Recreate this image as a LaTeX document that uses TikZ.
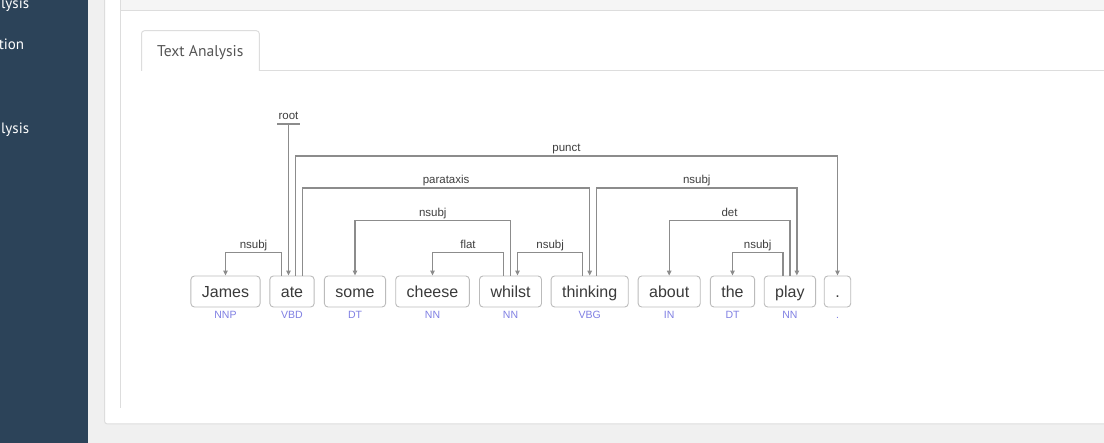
\documentclass[tikz,border=0pt]{standalone}
\usepackage{fontspec}
\setmainfont{Liberation Sans}
\newfontfamily\uifont{PT Sans}
\usetikzlibrary{arrows.meta}
\definecolor{sidebar}{HTML}{2C4359}
\definecolor{pagebg}{HTML}{F0F0F0}
\definecolor{rulec}{HTML}{DDDDDD}
\definecolor{headc}{HTML}{F5F5F5}
\definecolor{tabtext}{HTML}{555555}
\definecolor{boxc}{HTML}{BBBBBB}
\definecolor{wordc}{HTML}{3A3A3A}
\definecolor{arcc}{HTML}{8C8C8C}
\definecolor{lblc}{HTML}{3F3F3F}
\definecolor{tagc}{HTML}{7F7FE3}
\begin{document}
\begin{tikzpicture}[x=1pt,y=-1pt,
 word/.style={draw=boxc, line width=0.9pt, rounded corners=3.5pt, fill=white, text=wordc,
   font=\fontsize{16}{18}\selectfont, inner xsep=11pt, inner ysep=0pt, minimum height=31pt,
   text height=12.5pt, text depth=0.5pt},
 tag/.style={text=tagc, font=\fontsize{10.5}{12}\selectfont, inner sep=0pt, anchor=base},
 dep/.style={draw=arcc, line width=1.2pt, -{Triangle[length=5pt,width=4.5pt]}},
 lbl/.style={text=lblc, font=\fontsize{11.5}{13}\selectfont, inner sep=0pt, anchor=base, yshift=4.5pt},
 sidetext/.style={text=white, font=\uifont\fontsize{15}{18}\selectfont, inner sep=0pt, anchor=base east},
 rulel/.style={draw=rulec, line width=1pt}
]
\useasboundingbox (0,0) rectangle (1104,443);
% page background
\fill[pagebg] (0,0) rectangle (1104,443);
\fill[sidebar] (0,0) rectangle (88,443);
\begin{scope}
  \clip (0,0) rectangle (88,443);
  \node[sidetext] (side1) at (29.3,8.3) {lysis};
  \node[sidetext] (side2) at (24.3,50) {tion};
  \node[sidetext] (side3) at (29.3,133.3) {lysis};
\end{scope}
% white panel
\draw[rulel, fill=white, rounded corners=3pt] (104.5,-10) rectangle (1115,424);
% inner box header and border
\fill[headc] (120.3,-5) rectangle (1110,10.5);
\draw[rulel] (120.3,10.5) -- (1110,10.5);
\draw[rulel] (120.3,-5) -- (120.3,408);
% tab
\draw[rulel, fill=white, rounded corners=3pt] (141.5,71) -- (141.5,30.7) -- (259.3,30.7) -- (259.3,71);
\draw[rulel] (259.3,71) -- (1110,71);
\node[text=tabtext, font=\uifont\fontsize{15.6}{18}\selectfont, inner sep=0pt, anchor=base] (tab) at (200.3,56.5) {Text Analysis};

% words
\node[word] (James) at (225.5,291.5) {James};
\node[word] (ate) at (292,291.5) {ate};
\node[word] (some) at (355,291.5) {some};
\node[word] (cheese) at (432.5,291.5) {cheese};
\node[word] (whilst) at (510.5,291.5) {whilst};
\node[word] (thinking) at (589.7,291.5) {thinking};
\node[word] (about) at (669.2,291.5) {about};
\node[word] (the) at (732.5,291.5) {the};
\node[word] (play) at (789.9,291.5) {play};
\node[word] (dot) at (837.5,291.5) {.};

% tags
\node[tag] (tJames) at ([yshift=-11pt]James.south) {NNP};
\node[tag] (tate) at ([yshift=-11pt]ate.south) {VBD};
\node[tag] (tsome) at ([yshift=-11pt]some.south) {DT};
\node[tag] (tcheese) at ([yshift=-11pt]cheese.south) {NN};
\node[tag] (twhilst) at ([yshift=-11pt]whilst.south) {NN};
\node[tag] (tthinking) at ([yshift=-11pt]thinking.south) {VBG};
\node[tag] (tabout) at ([yshift=-11pt]about.south) {IN};
\node[tag] (tthe) at ([yshift=-11pt]the.south) {DT};
\node[tag] (tplay) at ([yshift=-11pt]play.south) {NN};
\node[tag] (tdot) at ([yshift=-11pt]dot.south) {.};

% level 1
\draw[dep] ([xshift=-10.5pt]ate.north) -- ++(0,23pt) -| (James.north) node[lbl,pos=0.25] {nsubj};
\draw[dep] ([xshift=-7pt]whilst.north) -- ++(0,23pt) -| (cheese.north) node[lbl,pos=0.25] {flat};
\draw[dep] ([xshift=-7pt]thinking.north) -- ++(0,23pt) -| ([xshift=7pt]whilst.north) node[lbl,pos=0.25] {nsubj};
\draw[dep] ([xshift=-7pt]play.north) -- ++(0,23pt) -| (the.north) node[lbl,pos=0.25] {nsubj};
% level 2
\draw[dep] (whilst.north) -- ++(0,55pt) -| (some.north) node[lbl,pos=0.25] {nsubj};
\draw[dep] (play.north) -- ++(0,55pt) -| (about.north) node[lbl,pos=0.25] {det};
% level 3
\draw[dep] ([xshift=10.5pt]ate.north) -- ++(0,87.5pt) -| (thinking.north) node[lbl,pos=0.25] {parataxis};
\draw[dep] ([xshift=7pt]thinking.north) -- ++(0,87.5pt) -| ([xshift=7pt]play.north) node[lbl,pos=0.25] {nsubj};
% level 4
\draw[dep] ([xshift=3.5pt]ate.north) -- ++(0,119.5pt) -| (dot.north) node[lbl,pos=0.25] {punct};
% root
\coordinate (rootbar) at ([xshift=-3.5pt,yshift=151.5pt]ate.north);
\draw[draw=arcc, line width=2pt] ([xshift=-11.5pt]rootbar) -- ([xshift=11.5pt]rootbar);
\node[lbl] (rootlbl) at (rootbar) {root};
\draw[dep] (rootbar) -- ([xshift=-3.5pt]ate.north);
\end{tikzpicture}
\end{document}
